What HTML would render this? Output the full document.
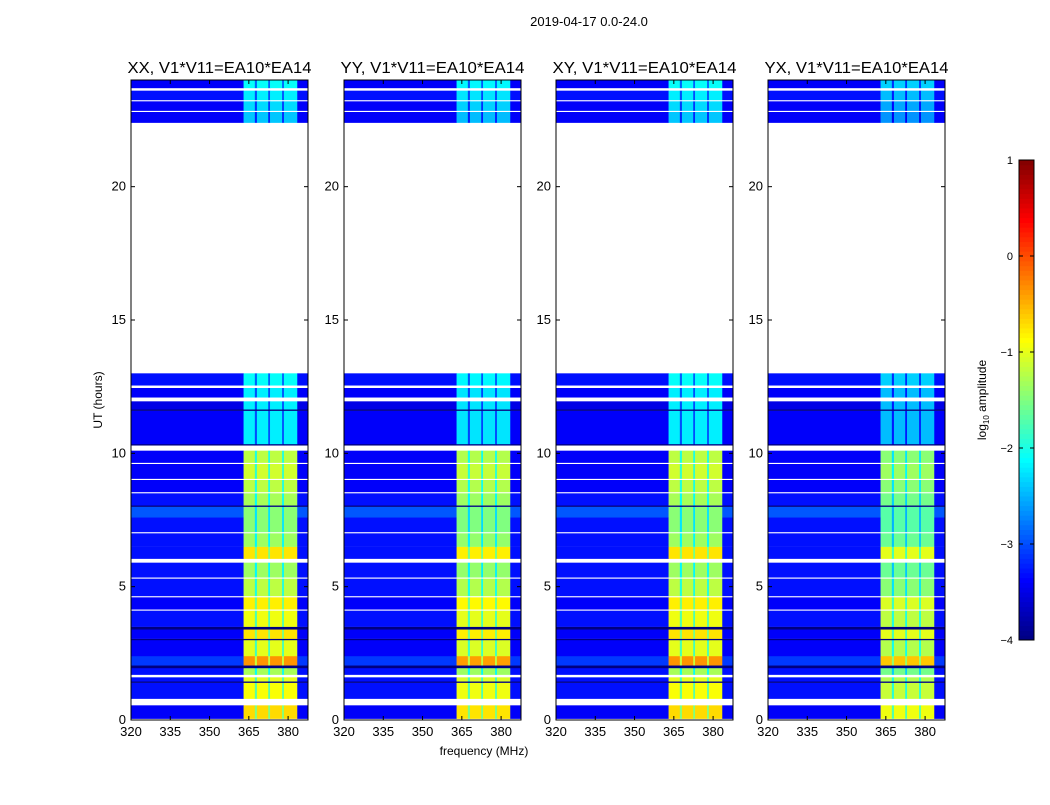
<!DOCTYPE html>
<html><head><meta charset="utf-8"><style>
body{margin:0;background:#fff;}
svg text{font-family:"Liberation Sans","DejaVu Sans",sans-serif;}
</style></head><body>
<svg id="chart" width="1050" height="800" xmlns="http://www.w3.org/2000/svg">
<rect width="1050" height="800" fill="#fff"/>
<text x="589" y="26" font-size="13" text-anchor="middle">2019-04-17 0.0-24.0</text>
<text x="484" y="755" font-size="12" text-anchor="middle">frequency (MHz)</text>
<text transform="translate(102,400) rotate(-90)" font-size="12" text-anchor="middle">UT (hours)</text>
<g id="panels"></g>
<g id="cbar"></g>
</svg>
<script>
const panelTitles = ["XX, V1*V11=EA10*EA14","YY, V1*V11=EA10*EA14","XY, V1*V11=EA10*EA14","YX, V1*V11=EA10*EA14"];
const panelBandShift = [0, -0.05, 0, -0.25];
const xTicks = [320,335,350,365,380];
const yTicks = [0,5,10,15,20];
const cbarTicks = [1,0,-1,-2,-3,-4];
const bandRange = [363, 383.5];
const bandDips = [[367.3,368.1,-0.8],[372.4,373.1,-0.8],[377.7,378.4,-0.8]];
// [startHour, endHour, backgroundLog, bandLog]; null = flagged (white)
const segStart = [0,0.05,0.55,0.8,1.4,1.45,1.6,1.7,1.95,2.05,2.4,3.0,3.05,3.4,3.5,4.1,4.15,4.6,4.65,5.3,5.35,5.9,6.05,6.5,7.0,7.05,7.6,8.0,8.05,8.5,8.55,9.0,9.05,9.6,9.65,10.1,10.3,10.35,11.6,11.65,11.95,12.1,12.45,12.55,13.0,22.4,22.8,22.85,23.2,23.25,23.6,23.7];
const segEnd   = [0.05,0.55,0.8,1.4,1.45,1.6,1.7,1.95,2.05,2.4,3.0,3.05,3.4,3.5,4.1,4.15,4.6,4.65,5.3,5.35,5.9,6.05,6.5,7.0,7.05,7.6,8.0,8.05,8.5,8.55,9.0,9.05,9.6,9.65,10.1,10.3,10.35,11.6,11.65,11.95,12.1,12.45,12.55,13.0,22.4,22.8,22.85,23.2,23.25,23.6,23.7,24];
const segBg    = [null,-3.4,null,-3.3,-4,-3.3,null,-3.3,-4,-3.1,-3.4,-4,-3.4,-4,-3.3,null,-3.4,null,-3.3,null,-3.3,null,-3.3,-3.3,null,-3.3,-2.95,-4,-3.3,null,-3.4,null,-3.4,null,-3.4,null,-4,-3.4,-4,-3.5,null,-3.4,null,-3.3,null,-3.4,null,-3.4,null,-3.3,null,-3.4];
const segBand  = [null,-0.7,null,-0.9,-4,-1.0,null,-1.3,-4,-0.35,-1.0,-4,-0.75,-4,-0.95,null,-0.8,null,-1.2,null,-1.35,null,-0.75,-1.35,null,-1.45,-1.45,-4,-1.3,null,-1.2,null,-1.1,null,-1.2,null,-4,-2.2,-4,-2.2,null,-2.2,null,-2.1,null,-2.4,null,-2.3,null,-2.2,null,-2.1];

const NS="http://www.w3.org/2000/svg";
const PL=[131,344,556,768], PW=177, PT=80, PB=720;
const FMIN=320, FMAX=387.6, TMAX=24;
function xs(p,f){return PL[p]+(f-FMIN)/(FMAX-FMIN)*PW;}
function ys(t){return PB-(t/TMAX)*(PB-PT);}
function jet(v){let x=(v+4)/5;x=Math.max(0,Math.min(1,x));
 const r=Math.max(0,Math.min(1,1.5-Math.abs(4*x-3))),g=Math.max(0,Math.min(1,1.5-Math.abs(4*x-2))),b=Math.max(0,Math.min(1,1.5-Math.abs(4*x-1)));
 return `rgb(${Math.round(r*255)},${Math.round(g*255)},${Math.round(b*255)})`;}
function mk(tag,attrs,parent){const e=document.createElementNS(NS,tag);for(const k in attrs)e.setAttribute(k,attrs[k]);parent.appendChild(e);return e;}
const panels=document.getElementById('panels');
const fEdges=[FMIN,bandRange[0]];
bandDips.forEach(d=>{fEdges.push(d[0],d[1]);});
fEdges.push(bandRange[1],FMAX);
for(let p=0;p<4;p++){
 const g=mk('g',{},panels);
 
 
 for(let i=0;i<segStart.length;i++){
  if(segBg[i]===null)continue;
  const y0=ys(segEnd[i]),y1=ys(segStart[i]);
  for(let k=0;k<fEdges.length-1;k++){
   const f0=fEdges[k],f1=fEdges[k+1];
   const mid=(f0+f1)/2;
   let v=segBg[i];
   if(mid>=bandRange[0]&&mid<=bandRange[1]&&segBand[i]>-4){
    v=segBand[i]+panelBandShift[p];
    bandDips.forEach(d=>{if(mid>=d[0]&&mid<=d[1])v+=d[2];});
   }
   const r=mk('rect',{x:xs(p,f0),y:y0,width:xs(p,f1)-xs(p,f0)+0.3,height:y1-y0+0.2,fill:jet(v)},g);
   
   
  }
 }
 const fr=mk('rect',{x:PL[p],y:PT,width:PW,height:PB-PT,fill:'none',stroke:'#000','stroke-width':1},g);
 
 
 const tt=mk('text',{x:PL[p]+PW/2,y:PT-7,'font-size':15.5,'text-anchor':'middle',textLength:184,lengthAdjust:'spacingAndGlyphs'},g);
 tt.textContent=panelTitles[p];
 
 
 xTicks.forEach(f=>{const x=xs(p,f);
  mk('line',{x1:x,x2:x,y1:PB,y2:PB-4,stroke:'#000'},g);mk('line',{x1:x,x2:x,y1:PT,y2:PT+4,stroke:'#000'},g);
  const t=mk('text',{x:x,y:PB+16,'font-size':13,'text-anchor':'middle'},g);t.textContent=f;
  
  });
 yTicks.forEach(h=>{const y=ys(h);
  mk('line',{x1:PL[p],x2:PL[p]+4,y1:y,y2:y,stroke:'#000'},g);mk('line',{x1:PL[p]+PW,x2:PL[p]+PW-4,y1:y,y2:y,stroke:'#000'},g);
  const t=mk('text',{x:PL[p]-5,y:y+4,'font-size':13,'text-anchor':'end'},g);t.textContent=h;
  
  });
}
const cb=document.getElementById('cbar');


const CX=1019,CW=15,CT=160,CB=640;
function cy(v){return CB-(v+4)/5*(CB-CT);}
for(let i=0;i<100;i++){const v0=-4+i*0.05;
 mk('rect',{x:CX,y:cy(v0+0.05),width:CW,height:(CB-CT)/100+0.5,fill:jet(v0+0.025)},cb);}
mk('rect',{x:CX,y:CT,width:CW,height:CB-CT,fill:'none',stroke:'#000'},cb);
cbarTicks.forEach(v=>{const y=cy(v);
 mk('line',{x1:CX,x2:CX+4,y1:y,y2:y,stroke:'#000'},cb);mk('line',{x1:CX+CW,x2:CX+CW-4,y1:y,y2:y,stroke:'#000'},cb);
 const t=mk('text',{x:1013,y:y+4,'font-size':11,'text-anchor':'end'},cb);t.textContent=(v<0?'\u2212':'')+Math.abs(v);
 
 });
const ct=mk('text',{transform:'translate(986,400) rotate(-90)','font-size':12,'text-anchor':'middle'},cb);
ct.innerHTML='log<tspan font-size="8" dy="3">10</tspan><tspan dy="-3"> amplitude</tspan>';


</script>
</body></html>
